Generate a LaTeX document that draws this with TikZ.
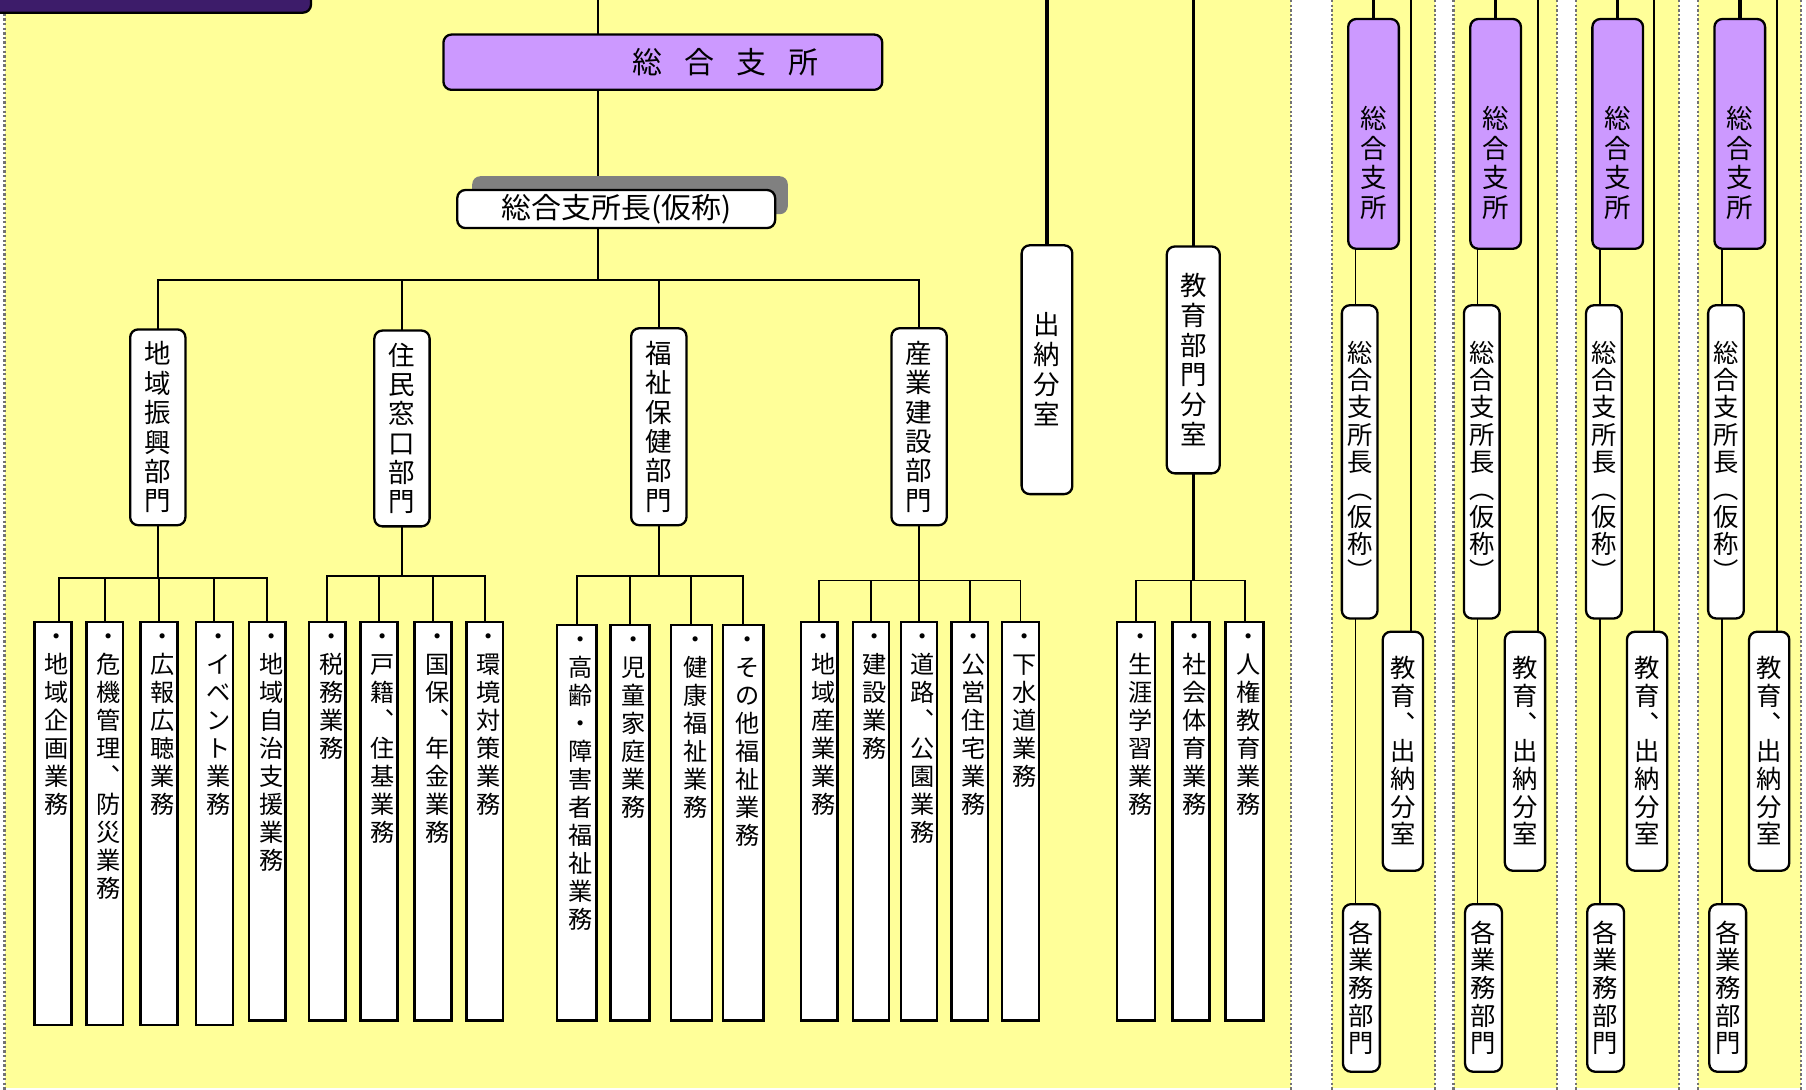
\documentclass[tikz,border=0pt]{standalone}
\usepackage{fontspec}
\usepackage{graphicx}
\setmainfont{Noto Sans CJK JP}
\usetikzlibrary{calc}
\pgfdeclarelayer{back}
\pgfdeclarelayer{lines}
\pgfsetlayers{back,lines,main}
\definecolor{bgyel}{HTML}{FFFF99}
\definecolor{purp}{HTML}{CC99FF}
\definecolor{darkp}{HTML}{3D1C6A}
\definecolor{shadc}{HTML}{808080}
\newlength\vsgap
\newcommand\lpv{\rotatebox[origin=c]{-90}{（}}
\newcommand\rpv{\rotatebox[origin=c]{-90}{）}}
\def\vsloop#1{\ifx\relax#1\else\hbox to 1em{\hss\vrule height .88em depth .12em width 0pt\relax #1\hss}\vskip\vsgap\expandafter\vsloop\fi}
\newcommand\vstack[2]{\vbox{\offinterlineskip\setlength\vsgap{#1}\addtolength\vsgap{-1em}\vsloop#2\relax\unskip}}
\newcommand\bx[6]{\node[#6, minimum width={((#4)-(#2))*0.5pt}, minimum height={((#5)-(#3))*0.5pt}] (#1) at ({((#2)+(#4))/2},{((#3)+(#5))/2}) {};}
\newcommand\leaf[6]{\bx{#1}{#2}{#4}{#3}{#5}{sqbox}\node[leaftext, anchor=north] (#1t) at ([xshift=1.75pt,yshift=-0.8pt]#1.north) {\vstack{12.15pt}{#6}};}
\tikzset{
  sqbox/.style={draw, line width=1pt, fill=white, inner sep=0pt, outer sep=0pt},
  rbox/.style={sqbox, rounded corners=3.5pt},
  pbox/.style={rbox, fill=purp},
  conn/.style={line width=0.85pt},
  tconn/.style={line width=1.5pt},
  fconn/.style={line width=0.6pt},
  vt/.style={inner sep=0pt, font=\fontsize{11.5}{13}\selectfont},
  leaftext/.style={inner sep=0pt, font=\fontsize{10.5}{12}\selectfont},
  ptext/.style={inner sep=0pt, font=\fontsize{11}{12}\selectfont},
  edge dots/.style={densely dotted, line width=1pt, black!55}
}
\begin{document}
\begin{tikzpicture}[x=0.5pt,y=-0.5pt]
\useasboundingbox (0,0) rectangle (1568,946);
\begin{pgfonlayer}{back}
  \fill[white] (0,0) rectangle (1568,946);
  \fill[bgyel] (4,0) rectangle (1121,945);
  \draw[edge dots] (4,0) -- (4,946);
  \draw[edge dots] (1121,0) -- (1121,946);
  \foreach \a in {1156.5,1262,1368,1474}{
    \fill[bgyel] (\a,0) rectangle ++(89.5,945);
    \draw[edge dots] (\a,0) -- (\a,946);
    \draw[edge dots] (\a+89.5,0) -- (\a+89.5,946);
  }
\end{pgfonlayer}

% header piece
\bx{hdr}{-10}{-10}{270}{11}{rbox, fill=darkp}

% top
\bx{sogo}{385}{30}{766}{78}{pbox}
\node[inner sep=0pt, font=\fontsize{13}{15}\selectfont] (sogot) at (630,54) {総\hspace{9.5pt}合\hspace{9.5pt}支\hspace{9.5pt}所};
\bx{shad}{410}{153}{684}{186}{rbox, draw=none, fill=shadc}
\bx{shocho}{397}{165}{673}{198}{rbox}
\node[inner sep=0pt, font=\fontsize{12.5}{14}\selectfont] (shochot) at (535,182) {\scalebox{1.04}[1]{総合支所長(仮称)}};

% level 2
\bx{b1}{113}{286}{161}{456}{rbox}
\node[vt] (b1t) at (b1) {\vstack{12.75pt}{地域振興部門}};
\bx{b2}{325}{287}{373}{457}{rbox}
\node[vt] (b2t) at (b2) {\vstack{12.75pt}{住民窓口部門}};
\bx{b3}{548}{285}{596}{456}{rbox}
\node[vt] (b3t) at (b3) {\vstack{12.75pt}{福祉保健部門}};
\bx{b4}{774}{285}{822}{456}{rbox}
\node[vt] (b4t) at (b4) {\vstack{12.75pt}{産業建設部門}};
\bx{sui}{887}{213}{931}{429}{rbox}
\node[vt] (suit) at (sui) {\vstack{13pt}{出納分室}};
\bx{kyo}{1013}{214}{1059}{411}{rbox}
\node[vt] (kyot) at (kyo) {\vstack{12.85pt}{教育部門分室}};

% leaves
\leaf{la}{30}{62}{540}{890}{・地域企画業務}
\leaf{lb}{75}{107}{540}{890}{・危機管理︑防災業務}
\leaf{lc}{122}{154}{540}{890}{・広報広聴業務}
\leaf{ld}{170}{202}{540}{890}{・イベント業務}
\leaf{le}{216}{248}{540}{886}{・地域自治支援業務}
\leaf{lf}{268}{300}{540}{886}{・税務業務}
\leaf{lg}{313}{345}{540}{886}{・戸籍︑住基業務}
\leaf{lh}{360}{392}{540}{886}{・国保︑年金業務}
\leaf{li}{405}{437}{540}{886}{・環境対策業務}
\leaf{lj}{483.5}{518}{542.5}{886}{・高齢・障害者福祉業務}
\leaf{lk}{530}{564}{542.5}{886}{・児童家庭業務}
\leaf{ll}{582.5}{618}{542.5}{886}{・健康福祉業務}
\leaf{lm}{627.5}{663}{542.5}{886}{・その他福祉業務}
\leaf{ln}{695.5}{727}{540}{886}{・地域産業業務}
\leaf{lo}{740.5}{772}{540}{886}{・建設業務}
\leaf{lp}{782}{813.5}{540}{886}{・道路︑公園業務}
\leaf{lq}{826}{858}{540}{886}{・公営住宅業務}
\leaf{lr}{870}{902}{540}{886}{・下水道業務}
\leaf{ls}{970}{1003}{540}{886}{・生涯学習業務}
\leaf{lt}{1018}{1050}{540}{886}{・社会体育業務}
\leaf{lu}{1064}{1097}{540}{886}{・人権教育業務}

\coordinate (top) at (0,0);
\coordinate (mx) at (519,0);
\coordinate (la0) at ([xshift=2.5pt]la.north);

% right panels
\foreach \k/\L in {0/1225,1/1335,2/1436,3/1542.5}{
  \pgfmathsetmacro\dx{106*\k}
  \bx{p\k}{1170.5+\dx}{16.5}{1214.5+\dx}{216}{pbox}
  \node[vt] (pt\k) at ([yshift=-12.6pt]p\k.center) {\vstack{12.75pt}{総合支所}};
  \bx{c\k}{1165+\dx}{265}{1196+\dx}{537}{rbox}
  \node[ptext] (ct\k) at (c\k) {\vstack{11.85pt}{総合支所長\lpv 仮称\rpv}};
  \bx{g\k}{1166+\dx}{785}{1198+\dx}{930.5}{rbox}
  \node[ptext] (gt\k) at (g\k) {\vstack{12pt}{各業務部門}};
  \bx{e\k}{1200.5+\dx}{548.5}{1235.5+\dx}{756}{rbox}
  \node[ptext] (et\k) at (e\k) {\vstack{12pt}{教育︑出納分室}};
  \coordinate (v\k) at (1177+\dx,0);
  \coordinate (w\k) at (\L,0);
  \begin{pgfonlayer}{lines}
    \draw[tconn] (p\k.north) -- (p\k.north |- top);
    \draw[fconn] (p\k.south -| v\k) -- (c\k.north -| v\k);
    \draw[fconn] (c\k.south -| v\k) -- (g\k.north -| v\k);
    \draw[conn] (w\k) -- (e\k.north -| w\k);
  \end{pgfonlayer}
}

\begin{pgfonlayer}{lines}
  \draw[conn] (mx) -- (sogo.north -| mx);
  \draw[conn] (sogo.south -| mx) -- (mx |- 0,243);
  \draw[conn] (b1.north) -- (b1.north |- 0,243) -- (b4.north |- 0,243) -- (b4.north);
  \draw[conn] (b2.north) -- (b2.north |- 0,243);
  \draw[conn] (b3.north) -- (b3.north |- 0,243);
  \draw[tconn] (sui.north) -- (sui.north |- top);
  \draw[tconn] (kyo.north) -- (kyo.north |- top);
  % group 1
  \draw[conn] (b1.south) -- (b1.south |- 0,502);
  \draw[conn] (la0) -- (la0 |- 0,502) -- (le.north |- 0,502) -- (le.north);
  \foreach \n in {lb,lc,ld}{\draw[conn] (\n.north) -- (\n.north |- 0,502);}
  % group 2
  \draw[conn] (b2.south) -- (b2.south |- 0,500);
  \draw[conn] (lf.north) -- (lf.north |- 0,500) -- (li.north |- 0,500) -- (li.north);
  \foreach \n in {lg,lh}{\draw[conn] (\n.north) -- (\n.north |- 0,500);}
  % group 3
  \draw[conn] (b3.south) -- (b3.south |- 0,500.5);
  \draw[conn] (lj.north) -- (lj.north |- 0,500.5) -- (lm.north |- 0,500.5) -- (lm.north);
  \foreach \n in {lk,ll}{\draw[conn] (\n.north) -- (\n.north |- 0,500.5);}
  % group 4
  \draw[conn] (b4.south) -- (b4.south |- 0,504);
  \draw[conn] (ln.north) -- (ln.north |- 0,504) -- (lr.north |- 0,504) -- (lr.north);
  \foreach \n in {lo,lp,lq}{\draw[conn] (\n.north) -- (\n.north |- 0,504);}
  % group 5
  \draw[tconn] (kyo.south) -- (kyo.south |- 0,504);
  \draw[conn] (ls.north) -- (ls.north |- 0,504) -- (lu.north |- 0,504) -- (lu.north);
  \draw[conn] (lt.north) -- (lt.north |- 0,504);
\end{pgfonlayer}
\end{tikzpicture}
\end{document}
